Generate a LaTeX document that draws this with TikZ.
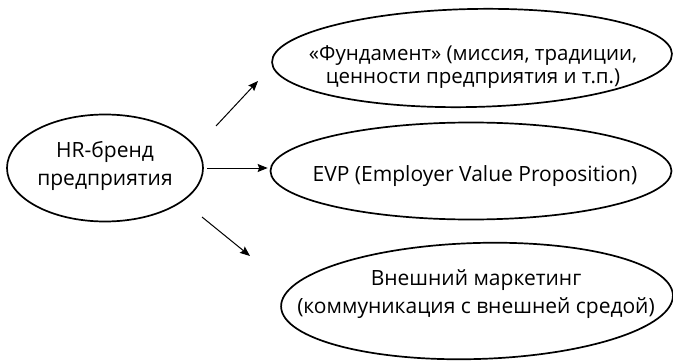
\documentclass[tikz,border=0pt]{standalone}
\usepackage{fontspec}
\setmainfont{Open Sans}
\usetikzlibrary{shapes.geometric,arrows.meta}

\tikzset{
    bubble/.style={draw,black,ellipse,line width=1.7pt,inner sep=0pt},
    bubbletext/.style={align=center,inner sep=0pt,font=\fontsize{21}{28}\selectfont},
    link/.style={line width=1pt,black,-{Stealth[length=10pt,width=8pt,inset=1.5pt]}}
}

\begin{document}
\begin{tikzpicture}[x=1pt,y=-1pt]
    \useasboundingbox (0,0) rectangle (673,364);

    \node[bubble,minimum width=400pt,minimum height=98pt,rotate=1.2] (fund) at (472,58) {};
    \node[bubble,minimum width=196pt,minimum height=107pt] (hr) at (105,168) {};
    \node[bubble,minimum width=401pt,minimum height=97pt] (evp) at (471,171) {};
    \node[bubble,minimum width=392pt,minimum height=116pt,rotate=1.7] (mkt) at (477,301) {};

    \node[bubbletext] (hr-text) at (105,166) {HR-бренд\\предприятия};
    \node[bubbletext,font=\fontsize{20.5}{23.5}\selectfont] (fund-text) at (473,67) {«Фундамент» (миссия, традиции,\\ценности предприятия и т.п.)};
    \node[bubbletext] (evp-text) at (475,176) {EVP (Employer Value Proposition)};
    \node[bubbletext] (mkt-text) at (476,294) {Внешний маркетинг\\(коммуникация с внешней средой)};

    \coordinate (up-from) at (216,126);
    \coordinate (up-to) at (258,81);
    \coordinate (down-from) at (202,217);
    \coordinate (down-to) at (250,256);

    \draw[link](up-from)--(up-to);
    \draw[link,shorten <=3pt,shorten >=2pt](hr.east)--(hr.east -| evp.west);
    \draw[link](down-from)--(down-to);
\end{tikzpicture}
\end{document}
